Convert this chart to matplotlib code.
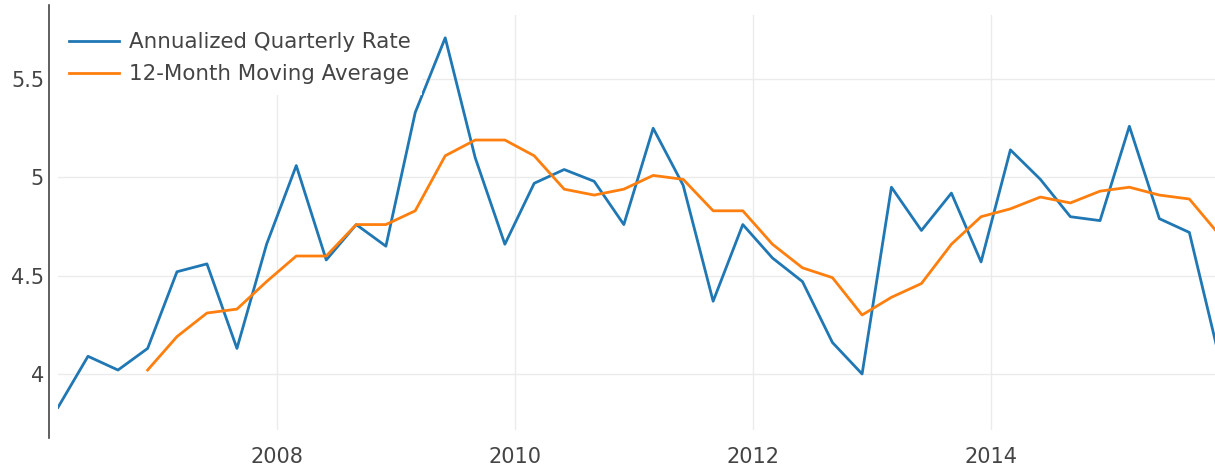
import numpy as np
import pandas as pd
import matplotlib
matplotlib.use("Agg")
import matplotlib.pyplot as plt
from matplotlib.lines import Line2D
from matplotlib.patches import Rectangle

# Quarterly observations, Q1 2006 .. Q4 2015
quarters = pd.date_range("2006-03-01", periods=40, freq="QS-MAR")

annualized_rate = [3.83, 4.09, 4.02, 4.13, 4.52, 4.56, 4.13, 4.66, 5.06, 4.58,
                   4.76, 4.65, 5.33, 5.71, 5.10, 4.66, 4.97, 5.04, 4.98, 4.76,
                   5.25, 4.96, 4.37, 4.76, 4.59, 4.47, 4.16, 4.00, 4.95, 4.73,
                   4.92, 4.57, 5.14, 4.99, 4.80, 4.78, 5.26, 4.79, 4.72, 4.09]

# moving average starts with the 4th quarter
moving_avg = [np.nan, np.nan, np.nan,
              4.02, 4.19, 4.31, 4.33, 4.47, 4.60, 4.60, 4.76, 4.76, 4.83,
              5.11, 5.19, 5.19, 5.11, 4.94, 4.91, 4.94, 5.01, 4.99, 4.83,
              4.83, 4.66, 4.54, 4.49, 4.30, 4.39, 4.46, 4.66, 4.80, 4.84,
              4.90, 4.87, 4.93, 4.95, 4.91, 4.89, 4.71]

series_names = ["Annualized Quarterly Rate", "12-Month Moving Average"]
y_ticks = [4, 4.5, 5, 5.5]
y_tick_labels = ["4", "4.5", "5", "5.5"]
x_tick_years = [2008, 2010, 2012, 2014]

W, H = 1215, 473
fig = plt.figure(figsize=(W / 100, H / 100), dpi=100)
ax = fig.add_axes([58 / W, 1 - 430 / H, (1219 - 58) / W, (430 - 15) / H])

ax.plot(quarters, annualized_rate, color="#1f77b4", lw=2.0, label=series_names[0])
ax.plot(quarters, moving_avg, color="#ff7f0e", lw=2.0, label=series_names[1])

ax.set_xlim(quarters[0], quarters[-1])
ax.set_ylim(3.715, 5.826)

ax.set_yticks(y_ticks)
ax.set_yticklabels(y_tick_labels)
ax.set_xticks([pd.Timestamp(f"{y}-01-01") for y in x_tick_years])
ax.set_xticklabels([str(y) for y in x_tick_years])

ax.grid(True, color="#ebebeb", lw=1)
ax.set_axisbelow(True)
ax.tick_params(length=0, labelsize=15, colors="#444444")
ax.tick_params(axis="y", pad=10)
ax.tick_params(axis="x", pad=12)
for s in ax.spines.values():
    s.set_visible(False)

# y axis line sits a bit left of the plot and runs past it
fig.add_artist(Line2D([49 / W, 49 / W], [1 - 5 / H, 1 - 438 / H],
                      transform=fig.transFigure, color="#444444", lw=1.2))

leg = ax.legend(loc="upper left", bbox_to_anchor=(0, 1 - 6 / 415), frameon=True,
                fancybox=False, framealpha=1, edgecolor="none", facecolor="white",
                fontsize=15.4, handlelength=2.35, handletextpad=0.45,
                labelspacing=0.56, borderpad=0.52, borderaxespad=0)
for t in leg.get_texts():
    t.set_color("#444444")

# white strip above legend so the legend background reaches the top
ax.add_patch(Rectangle((0, 1 - 8 / 415), 0.32, 8 / 415, transform=ax.transAxes,
                       facecolor="white", edgecolor="none", zorder=1.5))

fig.savefig("out.png", dpi=100)
